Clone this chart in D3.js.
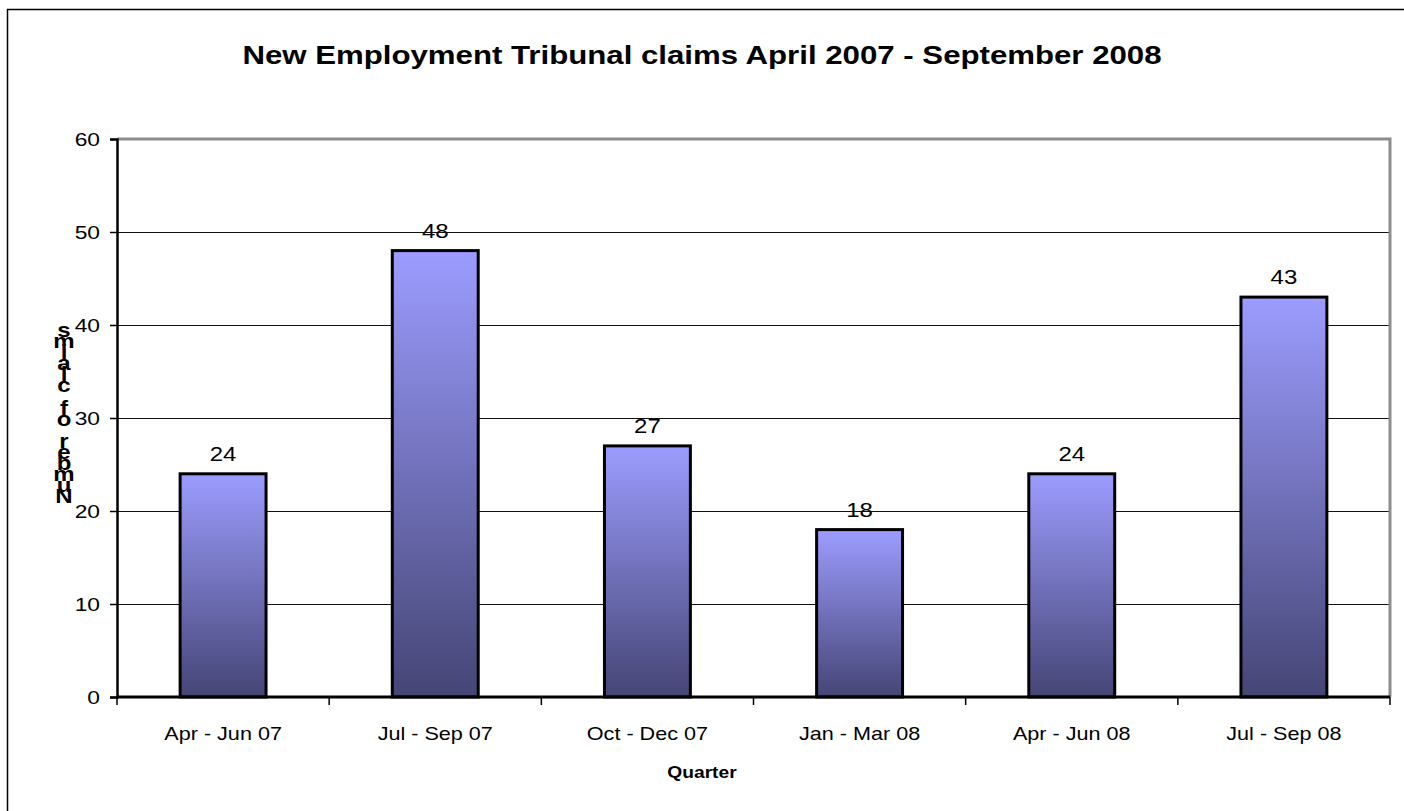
<!DOCTYPE html>
<html>
<head>
<meta charset="utf-8">
<script src="https://cdn.jsdelivr.net/npm/d3@7"></script>
<style>
  body { margin: 0; background: #fff; }
  text { font-family: "Liberation Sans", Arial, sans-serif; fill: #000; }
</style>
</head>
<body>
<div class="chart-container"></div>
<script>
const title = 'New Employment Tribunal claims April 2007 - September 2008';
const categories = ['Apr - Jun 07', 'Jul - Sep 07', 'Oct - Dec 07', 'Jan - Mar 08', 'Apr - Jun 08', 'Jul - Sep 08'];
const claims = [24, 48, 27, 18, 24, 43];
const yTicks = [0, 10, 20, 30, 40, 50, 60];
const xTitle = 'Quarter';
const yTitle = 'Number of claims';

const width = 1404;
const height = 811;
const margin = { top: 139, right: 14, bottom: 114, left: 117 };
const innerW = width - margin.left - margin.right;
const innerH = height - margin.top - margin.bottom;
const stretch = 1.2; // source chart text is a bit wider than tall

const svg = d3.select('.chart-container')
  .append('svg')
  .attr('width', width)
  .attr('height', height);

// outer frame (right and bottom edges fall off the picture)
svg.append('rect')
  .attr('x', 7.5).attr('y', 9.5)
  .attr('width', width).attr('height', height)
  .attr('fill', 'none')
  .attr('stroke', '#000')
  .attr('stroke-width', 1.5);

const defs = svg.append('defs');
const grad = defs.append('linearGradient')
  .attr('id', 'barFill')
  .attr('x1', 0).attr('y1', 0).attr('x2', 0).attr('y2', 1);
grad.append('stop').attr('offset', '0%').attr('stop-color', '#9c9cff');
grad.append('stop').attr('offset', '100%').attr('stop-color', '#454575');

function label(sel, x, y) {
  return sel.attr('transform', `translate(${x},${y}) scale(${stretch},1)`);
}

label(svg.append('text'), 702, 64)
  .attr('text-anchor', 'middle')
  .attr('font-size', 26)
  .attr('font-weight', 'bold')
  .text(title);

const g = svg.append('g')
  .attr('transform', `translate(${margin.left}, ${margin.top})`);

const x = d3.scaleBand()
  .domain(categories)
  .range([0, innerW])
  .paddingInner(0.595)
  .paddingOuter(0.2975);

const xBand = d3.scaleBand()
  .domain(categories)
  .range([0, innerW]);

const y = d3.scaleLinear()
  .domain([0, 60])
  .range([innerH, 0]);

// gridlines
g.append('g')
  .selectAll('line')
  .data(yTicks.filter(d => d > 0 && d < 60))
  .enter()
  .append('line')
  .attr('x1', 0).attr('x2', innerW)
  .attr('y1', d => y(d) + 0.5).attr('y2', d => y(d) + 0.5)
  .attr('stroke', '#111')
  .attr('stroke-width', 1);

// plot frame top & right
g.append('path')
  .attr('d', `M0,${y(60)}H${innerW}V${innerH}`)
  .attr('fill', 'none')
  .attr('stroke', '#8c8c8c')
  .attr('stroke-width', 3);

// bars
g.append('g')
  .selectAll('rect')
  .data(claims)
  .enter()
  .append('rect')
  .attr('x', (d, i) => x(categories[i]))
  .attr('y', d => y(d))
  .attr('width', x.bandwidth())
  .attr('height', d => innerH - y(d))
  .attr('fill', 'url(#barFill)')
  .attr('stroke', '#000')
  .attr('stroke-width', 3);

// value labels
g.append('g')
  .selectAll('text')
  .data(claims)
  .enter()
  .append('text')
  .attr('transform', (d, i) => `translate(${x(categories[i]) + x.bandwidth() / 2},${y(d) - 13}) scale(${stretch},1)`)
  .attr('text-anchor', 'middle')
  .attr('font-size', 20)
  .text(d => d);

// y axis
const yAxis = g.append('g')
  .call(d3.axisLeft(y).tickValues(yTicks).tickSize(7).tickPadding(10));
yAxis.select('.domain').attr('stroke', '#000').attr('stroke-width', 2.5);
yAxis.selectAll('.tick line').attr('stroke', '#000').attr('stroke-width', 1.5);
yAxis.selectAll('.tick text')
  .attr('x', null)
  .attr('transform', `translate(-17,0) scale(${stretch},1)`)
  .attr('font-family', '"Liberation Sans", Arial, sans-serif')
  .attr('font-size', 19)
  .attr('fill', '#000');

// x axis: ticks at band boundaries
const xAxisG = g.append('g')
  .attr('transform', `translate(0, ${innerH})`);
xAxisG.append('line')
  .attr('x1', 0).attr('x2', innerW)
  .attr('stroke', '#000')
  .attr('stroke-width', 3);
xAxisG.selectAll('.xtick')
  .data(d3.range(categories.length + 1))
  .enter()
  .append('line')
  .attr('class', 'xtick')
  .attr('x1', i => i * xBand.step()).attr('x2', i => i * xBand.step())
  .attr('y1', 0).attr('y2', 8)
  .attr('stroke', '#000')
  .attr('stroke-width', 1.5);
xAxisG.selectAll('.xlabel')
  .data(categories)
  .enter()
  .append('text')
  .attr('class', 'xlabel')
  .attr('transform', d => `translate(${xBand(d) + xBand.bandwidth() / 2},43) scale(${stretch},1)`)
  .attr('text-anchor', 'middle')
  .attr('font-size', 18)
  .text(d => d);

label(svg.append('text'), 702, 778)
  .attr('text-anchor', 'middle')
  .attr('font-size', 16)
  .attr('font-weight', 'bold')
  .text(xTitle);

// y title: letters stacked upright, last letter on top
const yt = label(svg.append('text'), 64, 337)
  .attr('text-anchor', 'middle')
  .attr('font-size', 20)
  .attr('font-weight', 'bold');
yt.selectAll('tspan')
  .data(yTitle.split('').reverse())
  .enter()
  .append('tspan')
  .attr('x', 0)
  .attr('dy', (d, i) => i === 0 ? 0 : 11.1)
  .text(d => d);
</script>
</body>
</html>
